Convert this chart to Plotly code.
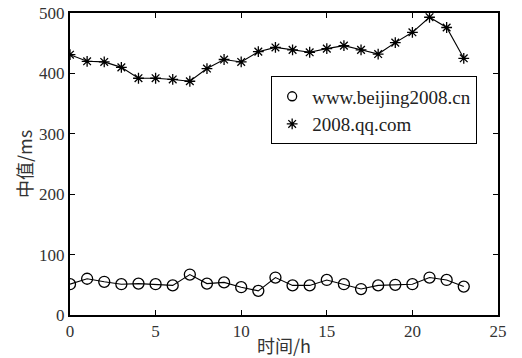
import plotly.graph_objects as go

hours = list(range(24))
beijing = [51, 60, 55, 51, 52, 51, 49, 67, 52, 54, 46, 40, 62, 49, 49, 58, 51, 43, 49, 50, 51, 62, 58, 47]
qq = [431, 420, 419, 410, 392, 392, 390, 387, 408, 423, 419, 436, 443, 439, 435, 441, 446, 439, 432, 451, 468, 493, 476, 425]
x_ticks = [0, 5, 10, 15, 20, 25]
y_ticks = [0, 100, 200, 300, 400, 500]

serif = "Liberation Serif, DejaVu Serif, serif"
cjk = "Noto Sans CJK SC"

circle_marker = dict(symbol="circle-open", size=11, color="black", line=dict(width=1.3))
star_marker = dict(symbol="asterisk-open", size=9, color="black", line=dict(width=1.3))

fig = go.Figure()
fig.add_trace(go.Scatter(
    x=hours, y=beijing, mode="lines+markers", showlegend=False,
    line=dict(color="black", width=1.1), marker=circle_marker,
))
fig.add_trace(go.Scatter(
    x=hours, y=qq, mode="lines+markers", showlegend=False,
    line=dict(color="black", width=1.1), marker=star_marker,
))
# legend entries (marker only, as in the original)
fig.add_trace(go.Scatter(x=[None], y=[None], mode="markers", name="www.beijing2008.cn",
                         marker=dict(symbol="circle-open", size=9, color="black", line=dict(width=1.3))))
fig.add_trace(go.Scatter(x=[None], y=[None], mode="markers", name="2008.qq.com",
                         marker=star_marker))

axis_common = dict(
    showline=True, linecolor="black", linewidth=2, mirror="ticks",
    ticks="inside", ticklen=5, tickwidth=1, tickcolor="black",
    showgrid=False, zeroline=False, automargin=False,
    tickfont=dict(family=serif, size=17, color="#333"),
)
fig.update_xaxes(range=[0, 25], tickvals=x_ticks, **axis_common,
                 title=dict(text="时间/h", font=dict(family=cjk, size=18, color="#333"), standoff=0))
fig.update_yaxes(range=[0, 500], tickvals=y_ticks, **axis_common,
                 title=dict(text="中值/ms", font=dict(family=cjk, size=18, color="#333"), standoff=2))

fig.update_layout(
    width=522, height=358,
    margin=dict(l=70, r=24, t=13, b=43, autoexpand=False),
    plot_bgcolor="white", paper_bgcolor="white",
    showlegend=True,
    legend=dict(
        x=0.47, y=0.79, xanchor="left", yanchor="top",
        bgcolor="white", bordercolor="black", borderwidth=1,
        font=dict(family=serif, size=19, color="#222"),
        tracegroupgap=0, itemwidth=30,
        entrywidth=180, entrywidthmode="pixels",
    ),
)

fig.write_html("out.html")
